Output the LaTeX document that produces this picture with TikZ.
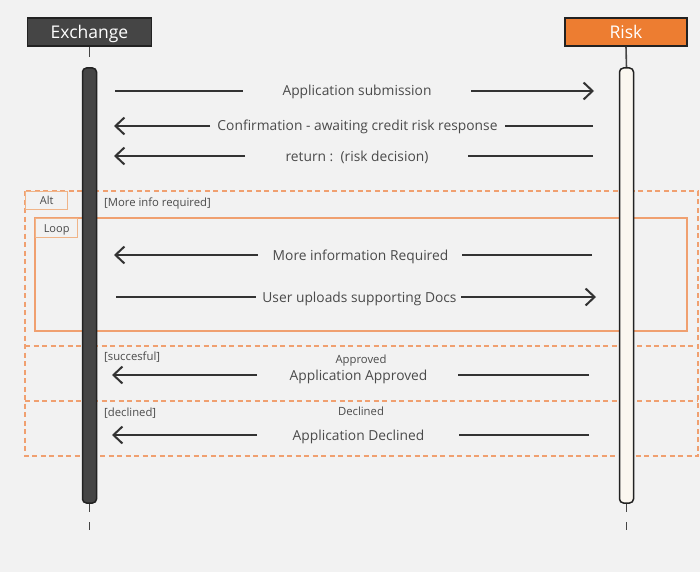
\documentclass[tikz,border=0pt]{standalone}
\usepackage{fontspec}
\setmainfont{Open Sans}
\usetikzlibrary{arrows.meta}
\definecolor{bgc}{HTML}{F2F2F2}
\definecolor{darkc}{HTML}{454545}
\definecolor{edgec}{HTML}{222222}
\definecolor{orangec}{HTML}{ED7D31}
\definecolor{creamc}{HTML}{FBF7F0}
\definecolor{framec}{HTML}{F0A070}
\definecolor{labboxc}{HTML}{F0B488}
\definecolor{txtc}{HTML}{4A4A4A}
\definecolor{linec}{HTML}{333333}
\tikzset{
  header/.style={draw=edgec, line width=1.5pt, minimum width=124pt, minimum height=28pt, inner sep=0pt, text height=12.5pt, text depth=0pt, font=\fontsize{17.5}{20}\selectfont},
  actbar/.style={draw=edgec, line width=1.5pt, rounded corners=4pt, minimum width=14pt, minimum height=435pt, inner sep=0pt},
  lifeline/.style={draw=darkc, line width=1.6pt},
  msgline/.style={draw=linec, line width=2pt},
  msgarrow/.style={msgline, -{Straight Barb[length=9pt,width=17pt,line width=2pt]}},
  msgtext/.style={text=txtc, font=\fontsize{13.8}{16}\selectfont, inner sep=0pt, anchor=base},
  smalltext/.style={text=txtc, font=\fontsize{11.3}{13}\selectfont, inner sep=0pt, anchor=base},
  altframe/.style={draw=framec, line width=1.2pt, dash pattern=on 5pt off 3.5pt},
  loopframe/.style={draw=framec, line width=1.3pt},
  tagbox/.style={draw=labboxc, line width=1.3pt, minimum width=42pt, minimum height=18pt, inner sep=0pt, text height=8pt, text depth=0pt, text=txtc, font=\fontsize{11}{12}\selectfont},
}
\begin{document}
\begin{tikzpicture}[x=1pt,y=-1pt]
\fill[bgc] (0,0) rectangle (700,572);
\useasboundingbox (0,0) rectangle (700,572);

% frames
\draw[altframe] (25,191) rectangle (698,456);
\draw[altframe] (25,346) -- (698,346);
\draw[altframe] (25,401) -- (698,401);
\node[tagbox, anchor=north west] (alttag) at (25,191) {Alt};
\draw[loopframe] (35,218) rectangle (687,331);
\node[tagbox, anchor=north west, minimum height=19pt] (looptag) at (35,218) {Loop};
\node[smalltext, anchor=base west] (cond1) at (104,206) {[More info required]};
\node[smalltext, anchor=base west] (cond2) at (104,360) {[succesful]};
\node[smalltext, anchor=base west] (cond3) at (104,416) {[declined]};

% headers
\node[header, fill=darkc, text=white] (exh) at (89.5,32) {Exchange};
\node[header, fill=orangec, text=white, minimum width=122pt] (riskh) at (626,32) {Risk};

% lifelines
\coordinate (exs) at (89.5,57);
\coordinate (exb1) at (89.5,512);
\coordinate (exd1) at (89.5,522);
\coordinate (exd2) at (89.5,530);
\coordinate (rks) at (626.5,68);
\coordinate (rkb1) at (626.5,512);
\coordinate (rkd1) at (626.5,522);
\coordinate (rkd2) at (626.5,530);
\draw[lifeline] (exh.south) -- (exs);
\draw[lifeline] (exd1) -- (exd2);
\draw[lifeline] (riskh.south) -- (rks);
\draw[lifeline] (rkd1) -- (rkd2);

% activation bars
\node[actbar, fill=darkc] (exbar) at (89.5,285.5) {};
\node[actbar, fill=creamc] (rkbar) at (626.5,285.5) {};
\draw[lifeline] (exbar.south) -- (exb1);
\draw[lifeline] (rkbar.south) -- (rkb1);

% message 1
\node[msgtext] (t1) at (357,96) {Application submission};
\coordinate (m1a) at (115,91); \coordinate (m1b) at (243,91);
\coordinate (m1c) at (471,91); \coordinate (m1d) at (594,91);
\draw[msgline] (m1a) -- (m1b);
\draw[msgarrow] (m1c) -- (m1d);

% message 2
\node[msgtext] (t2) at (357.5,131) {Confirmation - awaiting credit risk response};
\coordinate (m2a) at (593,126); \coordinate (m2b) at (505,126);
\coordinate (m2c) at (210,126); \coordinate (m2d) at (114,126);
\draw[msgline] (m2a) -- (m2b);
\draw[msgarrow] (m2c) -- (m2d);

% message 3
\node[msgtext] (t3) at (357,161) {return :\ \ (risk decision)};
\coordinate (m3a) at (593,156); \coordinate (m3b) at (468,156);
\coordinate (m3c) at (245,156); \coordinate (m3d) at (114,156);
\draw[msgline] (m3a) -- (m3b);
\draw[msgarrow] (m3c) -- (m3d);

% message 4
\node[msgtext] (t4) at (360.5,260) {More information Required};
\coordinate (m4a) at (592,255); \coordinate (m4b) at (462,255);
\coordinate (m4c) at (258,255); \coordinate (m4d) at (114,255);
\draw[msgline] (m4a) -- (m4b);
\draw[msgarrow] (m4c) -- (m4d);

% message 5
\node[msgtext] (t5) at (359.5,302) {User uploads supporting Docs};
\coordinate (m5a) at (116,297); \coordinate (m5b) at (256,297);
\coordinate (m5c) at (461,297); \coordinate (m5d) at (596,297);
\draw[msgline] (m5a) -- (m5b);
\draw[msgarrow] (m5c) -- (m5d);

% message 6
\node[smalltext] (s6) at (361,363) {Approved};
\node[msgtext] (t6) at (358.5,380) {Application Approved};
\coordinate (m6a) at (589,375); \coordinate (m6b) at (458,375);
\coordinate (m6c) at (257,375); \coordinate (m6d) at (112,375);
\draw[msgline] (m6a) -- (m6b);
\draw[msgarrow] (m6c) -- (m6d);

% message 7
\node[smalltext] (s7) at (361,415) {Declined};
\node[msgtext] (t7) at (358.5,440) {Application Declined};
\coordinate (m7a) at (589,435); \coordinate (m7b) at (459,435);
\coordinate (m7c) at (257,435); \coordinate (m7d) at (112,435);
\draw[msgline] (m7a) -- (m7b);
\draw[msgarrow] (m7c) -- (m7d);
\end{tikzpicture}
\end{document}
